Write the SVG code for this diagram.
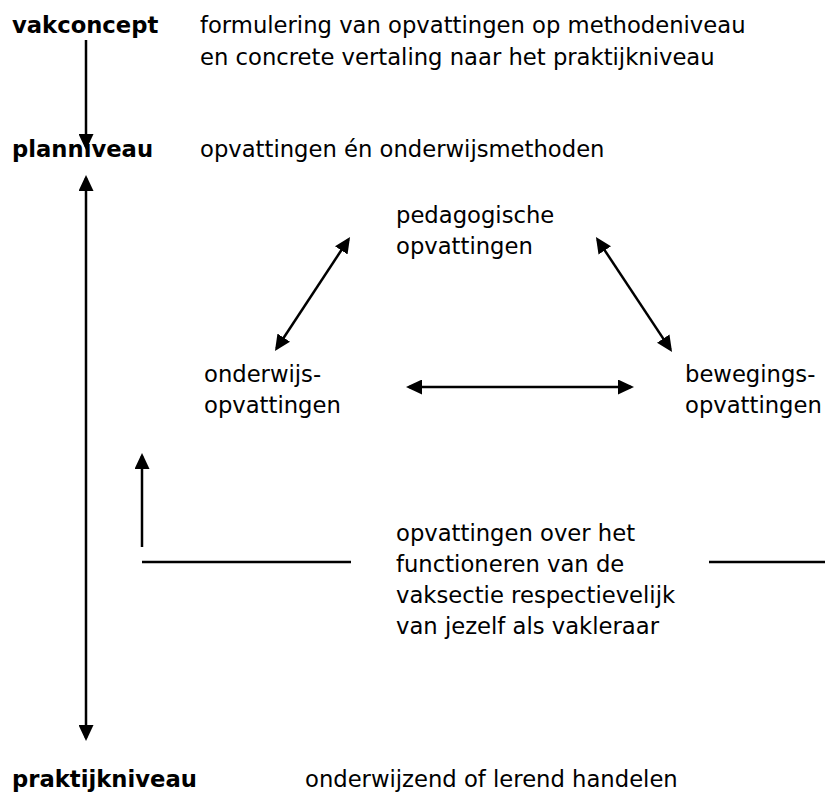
<svg xmlns="http://www.w3.org/2000/svg" width="825" height="799" viewBox="0 0 825 799">
<style>
text{font-family:"DejaVu Sans","Liberation Sans",sans-serif;font-size:22.7px;fill:#000}
.b{font-weight:bold}
.ln{stroke:#000;stroke-width:2.5;fill:none}
.pl{stroke:#000;stroke-width:2.3;fill:none}
</style>
<defs>
<marker id="ah" markerUnits="userSpaceOnUse" markerWidth="16" markerHeight="15" refX="13" refY="7.5" orient="auto-start-reverse" viewBox="0 0 16 15">
<path d="M0,0 L16,7.5 L0,15 z" fill="#000"/>
</marker>
</defs>
<rect width="825" height="799" fill="#fff"/>
<g id="vakconcept"><text class="b" x="12" y="33">vakconcept</text></g>
<g id="vakconcept-desc"><text x="200" y="33">formulering van opvattingen op methodeniveau</text><text x="200" y="65">en concrete vertaling naar het praktijkniveau</text></g>
<g id="planniveau"><text class="b" x="12" y="157">planniveau</text></g>
<g id="planniveau-desc"><text x="200" y="157">opvattingen én onderwijsmethoden</text></g>
<g id="pedagogische"><text x="396" y="223">pedagogische</text><text x="396" y="254">opvattingen</text></g>
<g id="onderwijs"><text x="204" y="382">onderwijs-</text><text x="204" y="413">opvattingen</text></g>
<g id="bewegings"><text x="685" y="382">bewegings-</text><text x="685" y="413">opvattingen</text></g>
<g id="vaksectie"><text x="396" y="541">opvattingen over het</text><text x="396" y="572">functioneren van de</text><text x="396" y="603">vaksectie respectievelijk</text><text x="396" y="634">van jezelf als vakleraar</text></g>
<g id="praktijkniveau"><text class="b" x="12" y="787">praktijkniveau</text></g>
<g id="praktijkniveau-desc"><text x="305" y="787">onderwijzend of lerend handelen</text></g>
<g id="connectors">
<path class="ln" d="M86,40 L86,147" marker-end="url(#ah)"/>
<path class="ln" d="M86,178 L86,738" marker-start="url(#ah)" marker-end="url(#ah)"/>
<path class="ln" d="M142,547 L142,456" marker-end="url(#ah)"/>
<path class="ln" d="M409,387 L631,387" marker-start="url(#ah)" marker-end="url(#ah)"/>
<path class="ln" d="M348.4,239.5 L276.6,348.5" marker-start="url(#ah)" marker-end="url(#ah)"/>
<path class="ln" d="M597.6,239.6 L670.4,349.4" marker-start="url(#ah)" marker-end="url(#ah)"/>
<path class="pl" d="M142,562 L351,562"/>
<path class="pl" d="M709,562 L825,562"/>
</g>
</svg>
